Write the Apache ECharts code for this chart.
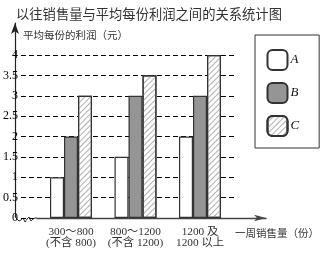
<!DOCTYPE html>
<html><head><meta charset="utf-8">
<script src="https://cdn.jsdelivr.net/npm/echarts@6/dist/echarts.min.js"></script>
<style>html,body{margin:0;padding:0;background:#fff}#c{width:322px;height:254px}</style>
</head><body><div id="c"></div>
<script>
var categories = ['300～800\n(不含 800)', '800～1200\n(不含 1200)', '1200 及\n1200 以上'];
var seriesNames = ['A', 'B', 'C'];
var valuesA = [1, 1.5, 2];
var valuesB = [2, 3, 3];
var valuesC = [3, 3.5, 4];
var yTicks = [0, 0.5, 1, 1.5, 2, 2.5, 3, 3.5, 4];

var serif = "'Liberation Serif', 'Noto Sans CJK SC', serif";
var chart = echarts.init(document.getElementById('c'), null, {renderer: 'canvas'});
var hidden = {show: false};
var hatch = {symbol: 'rect', symbolSize: 1, color: '#b0b0b0', dashArrayX: [1, 0], dashArrayY: [1, 3], rotation: -Math.PI / 4};
var option = {
  animation: false,
  title: {
    text: '以往销售量与平均每份利润之间的关系统计图',
    left: 11, top: 2,
    textStyle: {fontSize: 13.3, fontWeight: 'normal', color: '#333', fontFamily: "'Noto Sans CJK SC', sans-serif"}
  },
  legend: {
    data: seriesNames,
    orient: 'vertical',
    left: 255, top: 35,
    padding: [14, 20, 11, 11.5],
    itemWidth: 20, itemHeight: 20, itemGap: 11,
    borderColor: '#333', borderWidth: 1,
    textStyle: {fontFamily: serif, fontStyle: 'italic', fontSize: 13, color: '#111', padding: [0, 0, 0, -2]}
  },
  grid: [
    {left: 15, top: 23, width: 200, height: 194},
    {left: 37, top: 23, width: 233, height: 195},
    {left: 15, top: 55, width: 222, height: 163},
    {left: 38.75, top: 55, width: 193.5, height: 163}
  ],
  xAxis: [
    {gridIndex: 0, type: 'value', show: false},
    {gridIndex: 1, type: 'value', min: 0, max: 1,
     axisLine: {show: true, lineStyle: {color: '#444', width: 1.3}, symbol: ['none', 'arrow'], symbolSize: [5, 12]},
     axisTick: hidden, axisLabel: hidden, splitLine: hidden,
     name: '一周销售量（份）', nameLocation: 'end', nameGap: -31,
     nameTextStyle: {fontSize: 10.5, color: '#333', fontFamily: "'Noto Sans CJK SC', sans-serif", align: 'left', verticalAlign: 'top', padding: [10, 0, 0, 0]}},
    {gridIndex: 2, type: 'value', show: false},
    {gridIndex: 3, type: 'category', data: categories,
     axisLine: hidden, axisTick: hidden, splitLine: hidden,
     axisLabel: {interval: 0, margin: 9, fontSize: 11.3, lineHeight: 10.5, color: '#333', fontFamily: serif}}
  ],
  yAxis: [
    {gridIndex: 0, type: 'value', min: 0, max: 1,
     axisLine: {show: true, lineStyle: {color: '#222', width: 1.2}, symbol: ['none', 'arrow'], symbolSize: [6, 11]},
     axisTick: hidden, axisLabel: hidden, splitLine: hidden,
     name: '平均每份的利润（元）', nameLocation: 'end', nameGap: -12,
     nameTextStyle: {fontSize: 10.5, color: '#333', fontFamily: "'Noto Sans CJK SC', sans-serif", align: 'left', verticalAlign: 'middle', padding: [0, 0, 0, 8]}},
    {gridIndex: 1, type: 'value', show: false, min: 0, max: 1},
    {gridIndex: 2, type: 'value', min: yTicks[0], max: yTicks[yTicks.length - 1], interval: 0.5,
     axisLine: hidden, axisTick: hidden,
     axisLabel: {margin: 3, fontSize: 12, color: '#000', fontFamily: serif, hideOverlap: false},
     splitLine: {show: true, lineStyle: {color: '#000', type: [5, 3], width: 1}}},
    {gridIndex: 3, type: 'value', min: 0, max: 4, show: false}
  ],
  graphic: [
    {type: 'polyline', shape: {points: [[15, 216], [17, 219], [19, 221], [21, 220], [23, 218], [25, 222], [27, 219], [29, 217], [31, 221], [33, 219], [35, 218], [37, 218]]},
     style: {stroke: '#333', lineWidth: 1, fill: null}}
  ],
  series: [
    {name: seriesNames[0], type: 'bar', xAxisIndex: 3, yAxisIndex: 3, data: valuesA, barWidth: 14, barGap: '0%',
     itemStyle: {color: '#fff', borderColor: '#333', borderWidth: 1.2}},
    {name: seriesNames[1], type: 'bar', xAxisIndex: 3, yAxisIndex: 3, data: valuesB, barWidth: 14, barGap: '0%',
     itemStyle: {color: '#959595', borderColor: '#333', borderWidth: 1.2}},
    {name: seriesNames[2], type: 'bar', xAxisIndex: 3, yAxisIndex: 3, data: valuesC, barWidth: 14, barGap: '0%',
     itemStyle: {color: '#fff', borderColor: '#333', borderWidth: 1.2, decal: hatch}}
  ]
};
chart.setOption(option);
</script></body></html>
